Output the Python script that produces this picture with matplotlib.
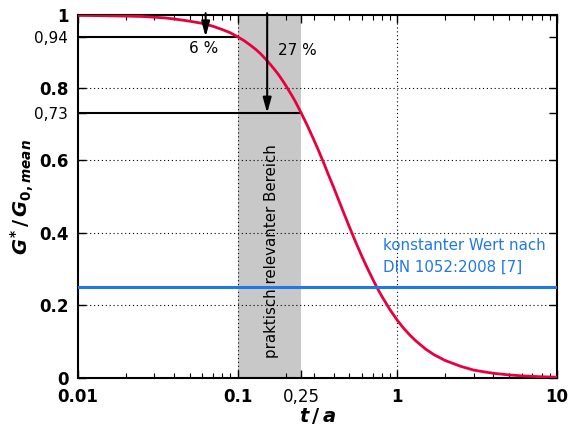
import numpy as np
import matplotlib
matplotlib.use("Agg")
import matplotlib.pyplot as plt
from matplotlib.ticker import LogLocator, NullFormatter

plt.rcParams['font.family'] = ['DejaVu Sans']
plt.rcParams['mathtext.fontset'] = 'custom'
plt.rcParams['mathtext.it'] = 'DejaVu Sans:italic:bold'
plt.rcParams['mathtext.rm'] = 'DejaVu Sans:bold'
plt.rcParams['mathtext.bf'] = 'DejaVu Sans:bold'

# === data ===
t_vals = [0.01, 0.015, 0.02, 0.025, 0.03, 0.035, 0.04, 0.045, 0.05, 0.06, 0.07,
          0.08, 0.09, 0.1, 0.11, 0.12, 0.13, 0.14, 0.15, 0.16, 0.17, 0.18, 0.19,
          0.2, 0.22, 0.23, 0.25, 0.27, 0.28, 0.3, 0.32, 0.35, 0.37, 0.4, 0.45,
          0.5, 0.55, 0.6, 0.65, 0.7, 0.75, 0.8, 0.9, 1.0, 1.1, 1.2, 1.3, 1.5,
          1.7, 2.0, 2.5, 3.0, 3.5, 4.0, 5.0, 6.0, 7.0, 8.0, 10.0]
g_vals = [0.999, 0.998, 0.997, 0.996, 0.994, 0.992, 0.989, 0.986, 0.983, 0.977,
          0.969, 0.960, 0.951, 0.940, 0.929, 0.917, 0.905, 0.892, 0.878, 0.864,
          0.850, 0.836, 0.821, 0.806, 0.776, 0.761, 0.730, 0.700, 0.685, 0.656,
          0.628, 0.587, 0.560, 0.524, 0.467, 0.417, 0.373, 0.335, 0.302, 0.273,
          0.247, 0.225, 0.188, 0.159, 0.136, 0.118, 0.103, 0.080, 0.064, 0.048,
          0.032, 0.022, 0.0168, 0.013, 0.0085, 0.0060, 0.0045, 0.0035, 0.0023]

band = (0.1, 0.25)           # praktisch relevanter Bereich
din_value = 0.25             # konstanter Wert nach DIN 1052:2008
mark_levels = [0.94, 0.73]   # values at t = 0.1 and t = 0.25
mark_t = [0.1, 0.25]
arrow_t = [0.063, 0.153]
arrow_labels = ["6 %", "27 %"]

x_major = [0.01, 0.1, 0.25, 1, 10]
x_labels = ["0.01", "0.1", "0,25", "1", "10"]
y_major = [0, 0.2, 0.4, 0.6, 0.73, 0.8, 0.94, 1]
y_labels = ["0", "0.2", "0.4", "0.6", "0,73", "0.8", "0,94", "1"]

red = "#e8003d"
blue = "#1f78e6"

fig = plt.figure(figsize=(5.75, 4.3), dpi=100)
ax = fig.add_axes([0.1357, 0.1209, 0.833, 0.8442])
ax.set_xscale("log")
ax.set_xlim(0.01, 10)
ax.set_ylim(0, 1)

# shaded band
ax.axvspan(band[0], band[1], color="#c8c8c8", lw=0, zorder=0)

# dotted grid
for gx in [0.1, 1]:
    ax.axvline(gx, color="black", ls=(0, (1, 2.5)), lw=0.8, zorder=1)
for gy in [0.2, 0.4, 0.6, 0.8]:
    ax.axhline(gy, color="black", ls=(0, (1, 2.5)), lw=0.8, zorder=1)

# horizontal marks
for lvl, tt in zip(mark_levels, mark_t):
    ax.plot([0.01, tt], [lvl, lvl], color="black", lw=1.5, zorder=3)

# curve
ax.plot(t_vals, g_vals, color=red, lw=2, zorder=4, solid_capstyle="round")

# blue constant line
ax.axhline(din_value, color=blue, lw=2.2, zorder=4)
ax.text(0.81, 0.335, "konstanter Wert nach\nDIN 1052:2008 [7]", color=blue,
        fontsize=10.8, ha="left", va="center", linespacing=1.55)

# arrows
for at, lvl in zip(arrow_t, mark_levels):
    ax.annotate("", xy=(at, lvl), xytext=(at, 1.005),
                arrowprops=dict(arrowstyle="-|>,head_length=0.9,head_width=0.25",
                                color="black", lw=1.5, shrinkA=0, shrinkB=0),
                zorder=5, annotation_clip=False)
ax.text(0.061, 0.909, arrow_labels[0], fontsize=11, ha="center", va="center")
ax.text(0.237, 0.903, arrow_labels[1], fontsize=11, ha="center", va="center")

ax.text(0.163, 0.35, "praktisch relevanter Bereich", rotation=90,
        fontsize=10.8, ha="center", va="center")

# ticks
ax.set_xticks(x_major)
ax.set_xticklabels(x_labels)
ax.xaxis.set_minor_locator(LogLocator(base=10, subs=np.arange(2, 10)))
ax.xaxis.set_minor_formatter(NullFormatter())
ax.set_yticks(y_major)
ax.set_yticklabels(y_labels)
ax.tick_params(which="both", direction="in", top=True, right=True)
ax.tick_params(which="major", length=6, width=1, labelsize=12, pad=7)
ax.tick_params(which="minor", length=3.5, width=0.8)

for lab in ax.get_xticklabels():
    lab.set_fontweight("regular" if "," in lab.get_text() else "bold")
for lab in ax.get_yticklabels():
    if "," in lab.get_text():
        lab.set_fontweight("regular")
        lab.set_fontsize(11)
    else:
        lab.set_fontweight("bold")

for s in ax.spines.values():
    s.set_linewidth(1.5)

ax.set_xlabel(r"$t\,/\,a$", fontsize=14, labelpad=0)
ax.set_ylabel(r"$G^{*}\,/\,G_{0,mean}$", fontsize=14, labelpad=-1)

fig.savefig("out.png", dpi=100)
